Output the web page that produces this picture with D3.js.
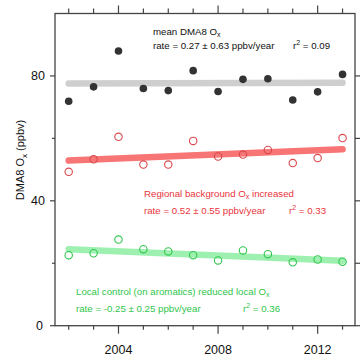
<!DOCTYPE html>
<html><head><meta charset="utf-8">
<script src="https://cdn.jsdelivr.net/npm/d3@7"></script>
<style>body{margin:0;background:#fff}svg{display:block;font-family:"Liberation Sans",Arial,sans-serif}</style>
</head><body><svg id="c" width="362" height="357"></svg>
<script>
const years = [2002,2003,2004,2005,2006,2007,2008,2009,2010,2011,2012,2013];
const meanOx = [71.9,76.5,88.0,76.0,75.3,81.7,75.0,78.9,79.1,72.3,74.9,80.5];
const regionalOx = [49.3,53.3,60.5,51.6,51.6,59.2,54.2,54.8,56.3,52.1,53.7,60.1];
const localOx = [22.6,23.2,27.6,24.5,23.8,22.6,20.9,24.1,22.9,20.3,21.2,20.5];
const fitYears = [2002,2013];
const meanFit = [77.6,77.8];
const regionalFit = [52.9,56.5];
const localFit = [24.5,20.8];
const yTicks = [0,20,40,60,80,100];
const yLabels = [0,40,80];
const xMajor = [2004,2008,2012];

const svg = d3.select("#c");
const L=55,R=355,T=13.5,B=325.7;
const x = d3.scaleLinear().domain([2001.45,2013.5]).range([L,R]);
const y = d3.scaleLinear().domain([0,100]).range([B,T]);
const ax="#444";

// frame
svg.append("rect").attr("x",L).attr("y",T).attr("width",R-L).attr("height",B-T)
  .attr("fill","none").attr("stroke",ax).attr("stroke-width",1.3);

// x ticks bottom and top
years.forEach(yr=>{
  const major = xMajor.includes(yr);
  svg.append("line").attr("x1",x(yr)).attr("x2",x(yr)).attr("y1",B).attr("y2",B+(major?8:4)).attr("stroke",ax).attr("stroke-width",1.2);
  svg.append("line").attr("x1",x(yr)).attr("x2",x(yr)).attr("y1",T).attr("y2",T-(major?8:5)).attr("stroke",ax).attr("stroke-width",1.2);
});
xMajor.forEach(yr=>{
  svg.append("text").attr("x",x(yr)).attr("y",354).attr("text-anchor","middle")
    .attr("font-size",12.5).attr("fill","#111").text(yr);
});
// y ticks
yTicks.forEach(v=>{
  const major = yLabels.includes(v);
  if(v<100){
    svg.append("line").attr("x1",L).attr("x2",L-(major?5:3)).attr("y1",y(v)).attr("y2",y(v)).attr("stroke",ax).attr("stroke-width",1.2);
    svg.append("line").attr("x1",R).attr("x2",R+5).attr("y1",y(v)).attr("y2",y(v)).attr("stroke",ax).attr("stroke-width",1.2);
  }
});
yLabels.forEach(v=>{
  svg.append("text").attr("x",v===0?43:45).attr("y",y(v)+4.3).attr("text-anchor","end")
    .attr("font-size",12.5).attr("fill","#111").text(v);
});
// y label
const yl = svg.append("text").attr("transform","translate(24,160) rotate(-90)")
  .attr("text-anchor","middle").attr("font-size",11).attr("fill","#111");
yl.append("tspan").text("DMA8 O");
yl.append("tspan").attr("font-size",8).attr("dy",3).text("x");
yl.append("tspan").attr("dy",-3).text(" (ppbv)");

// fit lines
const line = d3.line().x(d=>x(d[0])).y(d=>y(d[1]));
function fit(vals,col){
  svg.append("path").datum(fitYears.map((yr,i)=>[yr,vals[i]])).attr("d",line)
    .attr("stroke",col).attr("stroke-width",6.5).attr("stroke-linecap","round").attr("fill","none");
}
fit(meanFit,"#cfcfcf");
fit(regionalFit,"#f77575");
fit(localFit,"#9ef0b0");

// points
svg.selectAll(".m").data(years).enter().append("circle")
  .attr("cx",d=>x(d)).attr("cy",(d,i)=>y(meanOx[i])).attr("r",3.8).attr("fill","#333");
svg.selectAll(".r").data(years).enter().append("circle")
  .attr("cx",d=>x(d)).attr("cy",(d,i)=>y(regionalOx[i])).attr("r",3.7)
  .attr("fill","none").attr("stroke","#d9474c").attr("stroke-width",1.1);
svg.selectAll(".g").data(years).enter().append("circle")
  .attr("cx",d=>x(d)).attr("cy",(d,i)=>y(localOx[i])).attr("r",3.7)
  .attr("fill","none").attr("stroke","#2fc64c").attr("stroke-width",1.1);

// annotations
function label(xp,yp,txt,sub,rest,col){
  const t=svg.append("text").attr("x",xp).attr("y",yp).attr("font-size",9.7).attr("fill",col);
  t.append("tspan").text(txt);
  if(sub){t.append("tspan").attr("font-size",7).attr("dy",2.5).text(sub);
    t.append("tspan").attr("dy",-2.5).text(rest);}
}
function r2(xp,yp,val,col){
  const t=svg.append("text").attr("x",xp).attr("y",yp).attr("font-size",9.7).attr("fill",col);
  t.append("tspan").text("r");
  t.append("tspan").attr("font-size",7).attr("dy",-4).text("2");
  t.append("tspan").attr("dy",4).text(" = "+val);
}
label(153,34.5,"mean DMA8 O","x","","#111");
label(153,49,"rate = 0.27 ± 0.63 ppbv/year","", "","#111");
r2(293,49,"0.09","#111");
label(144,196.5,"Regional background O","x"," increased","#e8343c");
label(144,214,"rate = 0.52 ± 0.55 ppbv/year","","","#e8343c");
r2(289,214,"0.33","#e8343c");
label(76,294.5,"Local control (on aromatics) reduced local O","x","","#2fc64c");
label(76,312,"rate = -0.25 ± 0.25 ppbv/year","","","#2fc64c");
r2(243,312,"0.36","#2fc64c");
</script></body></html>
